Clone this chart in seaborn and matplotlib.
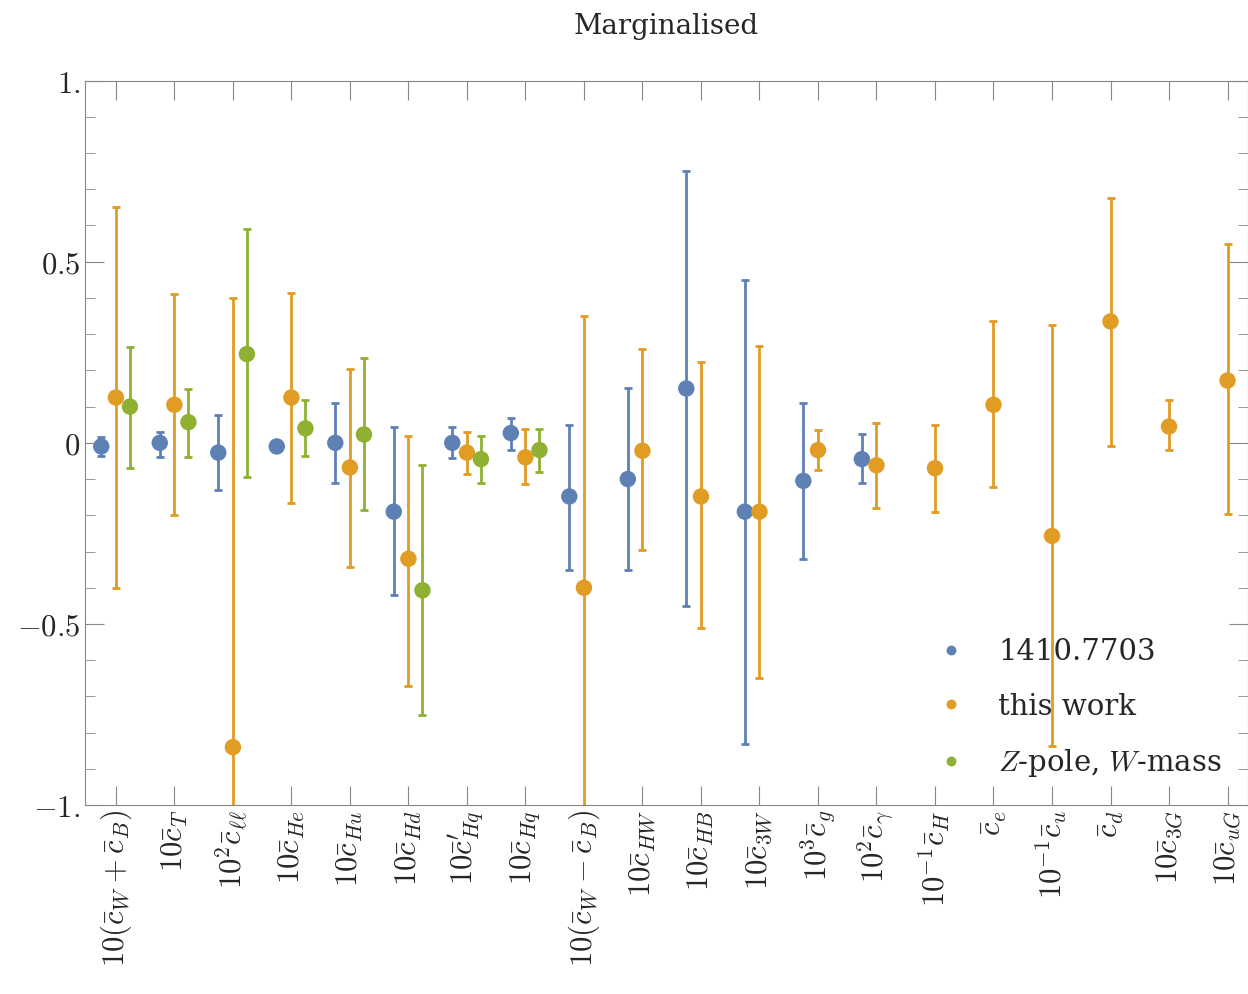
import numpy as np
import pandas as pd
import matplotlib
matplotlib.use("Agg")
import matplotlib.pyplot as plt
import seaborn as sns

labels = [r"$10(\bar{c}_W+\bar{c}_B)$", r"$10\bar{c}_T$", r"$10^2\bar{c}_{\ell\ell}$", r"$10\bar{c}_{He}$",
          r"$10\bar{c}_{Hu}$", r"$10\bar{c}_{Hd}$", r"$10\bar{c}^{\prime}_{Hq}$", r"$10\bar{c}_{Hq}$",
          r"$10(\bar{c}_W-\bar{c}_B)$", r"$10\bar{c}_{HW}$", r"$10\bar{c}_{HB}$", r"$10\bar{c}_{3W}$",
          r"$10^3\bar{c}_g$", r"$10^2\bar{c}_\gamma$", r"$10^{-1}\bar{c}_H$", r"$\bar{c}_e$",
          r"$10^{-1}\bar{c}_u$", r"$\bar{c}_d$", r"$10\bar{c}_{3G}$", r"$10\bar{c}_{uG}$"]

# 1410.7703 (category index, value, upper, lower)
blue_idx = [0, 1, 2, 3, 4, 5, 6, 7, 8, 9, 10, 11, 12, 13]
blue_val = [-0.01, 0.0, -0.027, -0.01, 0.0, -0.19, 0.0, 0.027, -0.148, -0.10, 0.15, -0.19, -0.105, -0.045]
blue_hi = [0.015, 0.03, 0.077, -0.005, 0.11, 0.045, 0.045, 0.068, 0.05, 0.15, 0.75, 0.45, 0.11, 0.023]
blue_lo = [-0.035, -0.04, -0.13, -0.015, -0.11, -0.42, -0.043, -0.02, -0.35, -0.35, -0.45, -0.83, -0.32, -0.112]

# this work
orange_idx = list(range(20))
orange_val = [0.125, 0.105, -0.84, 0.125, -0.068, -0.32, -0.027, -0.04, -0.40, -0.022, -0.148, -0.19,
              -0.02, -0.062, -0.07, 0.105, -0.257, 0.335, 0.045, 0.172]
orange_hi = [0.65, 0.41, 0.40, 0.413, 0.205, 0.018, 0.03, 0.037, 0.35, 0.258, 0.222, 0.267,
             0.035, 0.055, 0.048, 0.337, 0.325, 0.677, 0.117, 0.55]
orange_lo = [-0.40, -0.20, -1.2, -0.167, -0.343, -0.67, -0.085, -0.115, -1.2, -0.297, -0.512, -0.65,
             -0.075, -0.18, -0.19, -0.122, -0.838, -0.01, -0.02, -0.197]

# Z-pole, W-mass
green_idx = [0, 1, 2, 3, 4, 5, 6, 7]
green_val = [0.10, 0.057, 0.245, 0.04, 0.023, -0.407, -0.045, -0.02]
green_hi = [0.265, 0.148, 0.59, 0.117, 0.233, -0.06, 0.02, 0.037]
green_lo = [-0.07, -0.04, -0.095, -0.037, -0.186, -0.75, -0.11, -0.08]

sns.set_style("ticks")
plt.rcParams["font.family"] = ["DejaVu Serif"]
plt.rcParams["mathtext.fontset"] = "cm"

fig, ax = plt.subplots(figsize=(12.48, 9.94), dpi=100)
fig.subplots_adjust(left=0.068, right=1.0, top=0.919, bottom=0.19)

series = [("1410.7703", "#5E81B5", -0.25, blue_idx, blue_val, blue_hi, blue_lo),
          ("this work", "#E19C24", 0.0, orange_idx, orange_val, orange_hi, orange_lo),
          (r"$Z$-pole, $W$-mass", "#8FB032", 0.24, green_idx, green_val, green_hi, green_lo)]
rows = []
for name, col, off, idx, val, hi, lo in series:
    x = np.array(idx) + off
    v = np.array(val)
    ax.errorbar(x, v, yerr=[v - np.array(lo), np.array(hi) - v], fmt="none", ecolor=col,
                elinewidth=2, capsize=3, capthick=2, zorder=2)
    for xi, vi in zip(x, v):
        rows.append({"x": xi, "y": vi, "s": name})
df = pd.DataFrame(rows)
sns.scatterplot(data=df, x="x", y="y", hue="s", palette=[s[1] for s in series], s=140,
                edgecolor="none", ax=ax, zorder=3)

ax.set_xlim(-0.53, 19.35)
ax.set_ylim(-1, 1)
ax.set_xticks(range(20))
ax.set_xticklabels(labels, rotation=90, fontsize=22)
ax.set_yticks([-1, -0.5, 0, 0.5, 1])
ax.set_yticklabels(["$-1.$", "$-0.5$", "$0$", "$0.5$", "$1.$"], fontsize=22)
ax.set_yticks(np.arange(-1, 1.01, 0.1), minor=True)
ax.tick_params(direction="in", top=True, right=True, length=14, color="#888888", which="major")
ax.tick_params(direction="in", left=True, right=True, length=7, color="#888888", which="minor")
ax.set_xlabel("")
ax.set_ylabel("")
for sp in ax.spines.values():
    sp.set_color("#888888")
ax.set_title("Marginalised", fontsize=20, pad=42 - 40, family="serif", y=1.06)
leg = ax.legend(loc="lower right", frameon=False, fontsize=21, markerscale=0.6,
                handletextpad=0.6, labelspacing=0.9, bbox_to_anchor=(1.0, 0.0))
fig.savefig("out.png", dpi=100)
